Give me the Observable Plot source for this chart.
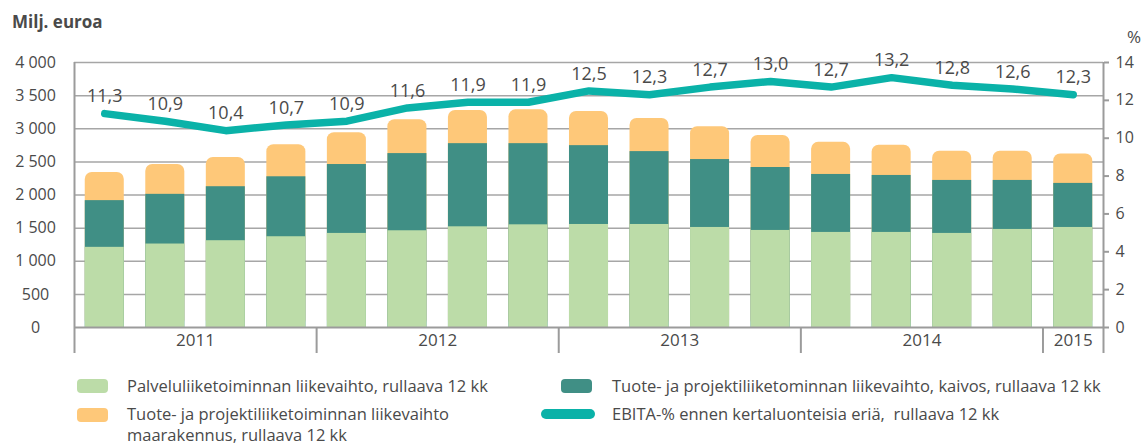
<!DOCTYPE html>
<html><head><meta charset="utf-8">
<script src="https://cdn.jsdelivr.net/npm/d3@7"></script>
<script src="https://cdn.jsdelivr.net/npm/@observablehq/plot@0.6"></script>
<style>
body{margin:0;background:#fff;font-family:"Open Sans",sans-serif;color:#4a4a4a;}
#wrap{position:relative;width:1144px;height:446px;overflow:hidden;}
#head{position:relative;height:40px;}
#title{position:absolute;left:12px;top:10px;font-weight:bold;font-size:17px;line-height:24px;}
#pct{position:absolute;left:1127px;top:25px;font-size:17px;line-height:24px;}
#chart{height:320px;}
#legend{position:relative;height:86px;font-size:16.5px;line-height:22px;}
.sw{position:absolute;width:31px;height:14px;border-radius:4px;}
.lt{position:absolute;white-space:nowrap;}
</style></head><body>
<div id="wrap">
<div id="head"><div id="title">Milj. euroa</div><div id="pct">%</div></div>
<div id="chart"></div>
<div id="legend">
<div class="sw" style="left:77px;top:19px;background:#bcdca8"></div>
<div class="lt" style="left:127px;top:15px">Palveluliiketoiminnan liikevaihto, rullaava 12 kk</div>
<div class="sw" style="left:77px;top:48px;background:#fec879"></div>
<div class="lt" style="left:127px;top:43px;line-height:21px">Tuote- ja projektiliiketoiminnan liikevaihto<br>maarakennus, rullaava 12 kk</div>
<div class="sw" style="left:561px;top:19px;background:#408f85"></div>
<div class="lt" style="left:612px;top:15px">Tuote- ja projektiliiketominnan liikevaihto, kaivos, rullaava 12 kk</div>
<div class="sw" style="left:541px;top:49px;width:54px;height:10px;border-radius:5px;background:#0ab2a8"></div>
<div class="lt" style="left:612px;top:43px">EBITA-% ennen kertaluonteisia eriä,&nbsp; rullaava 12 kk</div>
</div>
</div>
<script>
const quarters = ["2011Q1","2011Q2","2011Q3","2011Q4","2012Q1","2012Q2","2012Q3","2012Q4","2013Q1","2013Q2","2013Q3","2013Q4","2014Q1","2014Q2","2014Q3","2014Q4","2015Q1"];
const years = ["2011","2012","2013","2014","2015"];
const yearQuarterCounts = [4,4,4,4,1];
const palvelu = [1210,1260,1310,1370,1420,1460,1520,1550,1555,1555,1510,1465,1435,1435,1420,1480,1510];
const kaivos = [705,750,815,905,1040,1165,1255,1225,1190,1100,1025,950,875,860,800,740,665];
const maarakennus = [425,450,440,485,480,510,500,510,515,500,495,485,485,455,440,440,445];
const ebita = [11.3,10.9,10.4,10.7,10.9,11.6,11.9,11.9,12.5,12.3,12.7,13.0,12.7,13.2,12.8,12.6,12.3];
const leftTicks = [0,500,1000,1500,2000,2500,3000,3500,4000];
const rightTicks = [0,2,4,6,8,10,12,14];

const leftMax = 4000, rightMax = 14;
const factor = leftMax / rightMax;
const data = quarters.map((q, i) => ({q, i, g: palvelu[i], k: kaivos[i], m: maarakennus[i], e: ebita[i]}));
let acc = 0;
const yearData = years.map((y, j) => { const s = acc; acc += yearQuarterCounts[j]; return {year: y, start: s, end: acc, c: (s + acc) / 2}; });
const boundaries = [0, ...yearData.map(d => d.end)];
const fmt = v => v.toFixed(1).replace(".", ",");
const txt = "#4a4a4a";
const inset = 10.75;

const chart = Plot.plot({
  width: 1144, height: 320,
  marginLeft: 74, marginRight: 41, marginTop: 22, marginBottom: 33,
  style: {fontFamily: "Open Sans, sans-serif", fontSize: "16px", color: txt, background: "white", overflow: "visible"},
  x: {type: "linear", domain: [0, quarters.length], axis: null},
  y: {domain: [0, leftMax], axis: null},
  marks: [
    Plot.ruleY(leftTicks.filter(v => v > 0), {stroke: "#a6a6a6", strokeWidth: 1.5}),
    Plot.rectY(data, {x1: d => d.i, x2: d => d.i + 1, y1: 0, y2: d => d.g + d.k + d.m, fill: "#fec879", insetLeft: inset, insetRight: inset, rx: 7}),
    Plot.rectY(data, {x1: d => d.i, x2: d => d.i + 1, y1: 0, y2: d => d.g + d.k, fill: "#408f85", insetLeft: inset, insetRight: inset}),
    Plot.rectY(data, {x1: d => d.i, x2: d => d.i + 1, y1: 0, y2: d => d.g, fill: "#bcdca8", insetLeft: inset, insetRight: inset}),
    Plot.ruleY([0], {stroke: "#9b9b9b", strokeWidth: 2}),
    Plot.ruleX([0, quarters.length], {stroke: "#9b9b9b", strokeWidth: 2}),
    Plot.axisX(boundaries, {anchor: "bottom", tickSize: 26, tickFormat: () => "", stroke: "#9b9b9b", strokeWidth: 2, label: null}),
    Plot.text(yearData, {x: "c", text: "year", frameAnchor: "bottom", dy: 18, fontSize: 17, fill: txt}),
    Plot.axisY(leftTicks, {anchor: "left", tickSize: 0, tickPadding: 39, textAnchor: "middle", fontSize: 16, fill: txt, label: null,
      tickFormat: d => d3.format(",")(d).replace(",", " ")}),
    Plot.axisY(rightTicks.map(v => v * factor), {anchor: "right", tickSize: 5, tickPadding: 7, fontSize: 16, fill: txt, stroke: "#9b9b9b", strokeWidth: 2, label: null,
      tickFormat: d => String(Math.round(d / factor))}),
    Plot.line(data, {x: d => d.i + 0.5, y: d => d.e * factor, stroke: "#0ab2a8", strokeWidth: 7.5, strokeLinecap: "round", strokeLinejoin: "round"}),
    Plot.text(data, {x: d => d.i + 0.5, y: d => d.e * factor, text: d => fmt(d.e), dy: -17, fontSize: 18, fill: txt})
  ]
});
document.getElementById("chart").appendChild(chart);
</script>
</body></html>
